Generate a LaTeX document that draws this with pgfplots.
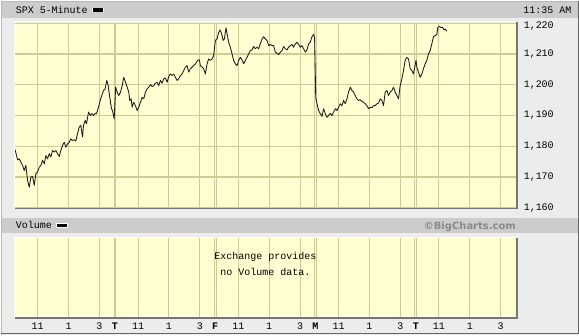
\documentclass[border=0pt]{standalone}
\usepackage{pgfplots}
\pgfplotsset{compat=1.18}
\usepackage{fontspec}
\setmainfont{Liberation Mono}
\newfontfamily\bcfont{DejaVu Sans}
\definecolor{panelbg}{RGB}{236,236,236}
\definecolor{barbg}{RGB}{204,204,204}
\definecolor{plotbg}{RGB}{255,255,210}
\definecolor{gridc}{RGB}{204,204,148}
\definecolor{shadowc}{RGB}{118,118,118}
\definecolor{bcgray}{RGB}{138,138,138}
\begin{document}
\begin{tikzpicture}[x=1pt,y=1pt,font=\fontsize{10}{12}\selectfont]
% background and bars
\fill[panelbg] (0pt,0pt) rectangle (579pt,335pt);
\draw[gray!55,line width=1pt] (0.5pt,334.5pt) -- (0.5pt,0.5pt);
\draw[gray!55,line width=1pt] (0.5pt,334.5pt) -- (578.5pt,334.5pt);
\draw[black!60,line width=1.2pt] (0pt,1.6pt) -- (578.4pt,1.6pt) -- (578.4pt,335pt);
\fill[barbg] (1pt,318pt) rectangle (578pt,333.5pt);
\fill[barbg] (1pt,102.3pt) rectangle (578pt,117.3pt);
% header texts
\node[anchor=base west,inner sep=0pt] at (15pt,322.4pt) {SPX 5-Minute};
\fill[white] (91.7pt,323.3pt) rectangle (103.7pt,327.9pt);
\fill[black] (92.7pt,324pt) rectangle (102.7pt,327.2pt);
\node[anchor=base east,inner sep=0pt] at (571.5pt,322.4pt) {11:35 AM};
\node[anchor=base west,inner sep=0pt] at (15pt,106.6pt) {Volume};
\fill[white] (55.3pt,107.6pt) rectangle (67.3pt,112.4pt);
\fill[black] (56.3pt,108.3pt) rectangle (66.3pt,111.7pt);
\node[anchor=base east,inner sep=0pt,text=bcgray] at (516pt,106.3pt) {\bcfont\bfseries ©BigCharts.com};
% main price axis
\begin{axis}[
  at={(14pt,312.4pt)}, anchor=north west, scale only axis,
  width=502pt, height=184.8pt,
  xmin=0, xmax=1950, ymin=1160, ymax=1220,
  axis background/.style={fill=plotbg},
  axis line style={draw=none},
  xtick={90,210,330,386.5,393.5,480,600,720,776.5,783.5,870,990,1110,1166.5,1173.5,1260,1380,1500,1556.5,1563.5,1650,1770,1890},
  xticklabels={},
  ytick={1160,1170,1180,1190,1200,1210},
  extra y ticks={1220},
  extra y tick style={yticklabel style={yshift=-2.5pt}},
  yticklabel pos=right,
  yticklabel={\pgfmathprintnumber[/pgf/number format/assume math mode=true,/pgf/number format/1000 sep={,}]{\tick}},
  yticklabel style={anchor=west,inner sep=0pt,xshift=7.5pt},
  xmajorgrids=true, ymajorgrids=true,
  grid style={gridc,line width=0.9pt},
  major grid style={gridc,line width=0.9pt},
  major tick length=0pt,
]
\draw[gridc,line width=1.3pt] (axis cs:0,1170) -- (axis cs:1950,1170);
\draw[gridc,line width=1.3pt] (axis cs:0,1180) -- (axis cs:1950,1180);
\draw[gridc,line width=1.3pt] (axis cs:0,1190) -- (axis cs:1950,1190);
\draw[gridc,line width=1.3pt] (axis cs:0,1200) -- (axis cs:1950,1200);
\draw[gridc,line width=1.3pt] (axis cs:0,1210) -- (axis cs:1950,1210);
\addplot[black!90,line width=0.85pt,line join=round] table {
x y
2 1178.9
11.7 1175.6
18.3 1175.9
24.5 1174.8
31.1 1173.8
37.7 1172.1
43.9 1173.8
50.5 1168.9
57.1 1166.7
63.3 1170.0
69.9 1170.2
76.5 1167.3
82.7 1171.1
89.3 1171.6
95.9 1173.2
102.2 1173.8
108.8 1175.4
115.4 1174.3
121.6 1177.0
128.2 1175.9
134.8 1177.6
141 1176.5
147.6 1178.6
154.2 1178.1
160.4 1178.6
167 1177.6
173.6 1176.7
179.8 1178.6
186.5 1180.3
193.1 1181.3
199.3 1179.7
205.9 1180.8
212.5 1181.3
218.7 1182.4
225.3 1181.9
231.9 1182.1
238.1 1181.7
244.7 1184.1
251.3 1186.2
257.5 1186.8
264.1 1183.0
268 1186.8
274.6 1188.4
279.7 1187.3
287.5 1191.1
294.1 1190.0
300.3 1190.6
306.9 1190.0
313.5 1190.7
318.5 1190.6
326.3 1192.7
332.9 1194.9
339.1 1196.5
345.7 1198.1
352.3 1198.7
358.5 1201.4
364 1199.7
370.2 1195.9
376.8 1192.2
380.7 1191.6
387.3 1188.9
393 1199.2
398.9 1197.6
405.2 1196.5
411.8 1197.6
418.4 1199.7
424.6 1202.4
431.2 1200.8
437.8 1199.2
444 1197.6
447.9 1194.9
453.3 1195.4
457.2 1192.7
463.4 1194.3
470 1193.2
476.6 1191.6
482.8 1192.7
489.4 1194.3
496.1 1195.9
502.3 1195.4
508.9 1197.6
515.5 1198.7
521.7 1199.2
528.3 1200.0
534.9 1199.4
541.1 1199.7
547.7 1200.5
554.3 1200.8
560.5 1199.7
567.1 1201.4
573.7 1200.5
579.9 1201.9
586.6 1202.2
593.2 1200.8
599.4 1202.7
606 1203.5
612.6 1203.0
618.8 1203.5
625.4 1202.4
632 1201.4
638.2 1201.9
644.8 1203.0
651.4 1203.5
657.6 1204.6
664.2 1205.7
670.8 1206.2
677 1204.1
683.7 1205.2
690.3 1205.7
696.5 1206.2
703.1 1206.8
712 1207.9
718.6 1208.1
722.5 1206.2
729.1 1205.7
735.3 1205.2
741.9 1203.5
748.5 1206.8
754.7 1208.4
761.4 1207.9
768 1208.4
774.2 1209.5
780.8 1214.4
787.4 1214.9
793.6 1217.0
800.2 1217.8
806.8 1216.0
810.7 1214.4
815.7 1214.9
822.3 1218.5
826.2 1216.5
832.4 1213.8
839 1212.2
845.6 1210.0
851.8 1207.9
858.5 1206.8
865.1 1206.2
871.3 1207.9
877.9 1208.9
884.5 1208.1
890.7 1206.8
897.3 1207.9
903.9 1208.9
910.1 1210.0
916.7 1211.1
923.3 1211.3
929.5 1212.4
936.2 1211.7
942.8 1212.2
949 1211.7
955.6 1213.3
962.2 1214.9
968.4 1215.6
975 1214.9
981.6 1214.4
987.8 1212.7
994.4 1213.1
1001 1212.7
1007.2 1212.7
1013.9 1210.6
1020.5 1210.2
1026.7 1209.8
1033.3 1210.6
1039.9 1211.1
1046.1 1212.4
1052.7 1211.7
1059.3 1211.3
1065.5 1212.2
1072.1 1212.7
1078.7 1213.1
1084.9 1212.2
1091.5 1213.3
1098.2 1213.8
1104.4 1213.1
1111 1212.2
1117.6 1212.7
1123.8 1211.7
1130.4 1210.6
1137 1211.3
1143.2 1213.3
1149.8 1213.8
1156.4 1215.6
1162.6 1216.3
1166.5 1215.4
1171 1195.9
1176.1 1193.8
1182.3 1191.6
1188.7 1190.6
1195.3 1189.7
1201.5 1192.2
1208.1 1190.6
1214.7 1189.4
1220.9 1190.0
1227.5 1190.7
1234.1 1190.0
1240.3 1191.1
1246.9 1192.2
1253.5 1191.6
1259.7 1192.7
1266.3 1193.8
1272.9 1193.2
1279.2 1194.9
1285.8 1193.8
1292.4 1195.4
1298.6 1197.6
1305.2 1199.2
1311.8 1198.1
1318 1197.6
1324.6 1196.5
1331.2 1195.4
1337.4 1194.9
1344 1195.1
1350.6 1194.6
1356.9 1194.3
1363.5 1193.8
1370.1 1193.2
1376.3 1192.2
1382.9 1192.7
1389.5 1192.5
1395.7 1193.2
1402.3 1193.2
1408.9 1193.8
1415.1 1194.0
1421.7 1195.4
1428.3 1194.9
1434.5 1193.2
1441.2 1197.6
1447.8 1198.1
1454 1196.5
1460.6 1197.6
1467.2 1198.1
1473.4 1199.2
1480 1197.6
1486.6 1196.5
1492.8 1195.4
1499.4 1199.7
1506 1201.9
1512.2 1204.6
1518.8 1207.9
1525.5 1208.9
1531.7 1208.4
1538.3 1205.2
1544.9 1204.6
1551.1 1203.5
1561 1207.9
1564.2 1205.7
1570.4 1204.1
1577.1 1202.4
1583.7 1203.5
1589.9 1205.2
1596.5 1206.8
1603.1 1207.9
1609.3 1210.0
1615.9 1211.1
1622.5 1213.3
1628.7 1215.6
1635.3 1216.0
1641.9 1216.3
1645.8 1218.7
1652 1218.9
1658.7 1218.5
1663.7 1218.7
1670.3 1217.8
1674.2 1218.1
1680.8 1217.4
};
\end{axis}
% bevel of main panel
\draw[white,line width=1pt] (13.5pt,126pt) -- (13.5pt,313.9pt) -- (516pt,313.9pt);
\draw[shadowc,line width=1.5pt] (14pt,126.8pt) -- (516.8pt,126.8pt) -- (516.8pt,313.4pt);
% volume axis
\begin{axis}[
  at={(14pt,97pt)}, anchor=north west, scale only axis,
  width=502pt, height=79.3pt,
  xmin=0, xmax=1950, ymin=0, ymax=1,
  axis background/.style={fill=plotbg},
  axis line style={draw=none},
  ytick=\empty,
  xtick={90,210,330,386.5,393.5,480,600,720,776.5,783.5,870,990,1110,1166.5,1173.5,1260,1380,1500,1556.5,1563.5,1650,1770,1890},
  xticklabels={},
  xmajorgrids, grid style={gridc,line width=0.9pt},
  major tick length=0pt,
  extra x ticks={90,210,330,390,480,600,720,780,870,990,1110,1170,1260,1380,1500,1560,1650,1770,1890},
  extra x tick labels={11,1,3,\textbf{T},11,1,3,\textbf{F},11,1,3,\textbf{M},11,1,3,\textbf{T},11,1,3},
  extra x tick style={grid=none,major tick length=0pt},
  xticklabel style={anchor=base,inner sep=0pt,yshift=-12.4pt},
]
\addplot[draw=none] coordinates {(0,0)};
\node[align=center,font=\fontsize{10}{16}\selectfont] at (axis cs:975,0.68) {Exchange provides\\no Volume data.};
\end{axis}
\draw[white,line width=1pt] (13.5pt,17pt) -- (13.5pt,97.5pt) -- (516pt,97.5pt);
\draw[shadowc,line width=1.5pt] (14pt,17.2pt) -- (516.8pt,17.2pt) -- (516.8pt,97pt);
\end{tikzpicture}
\end{document}
